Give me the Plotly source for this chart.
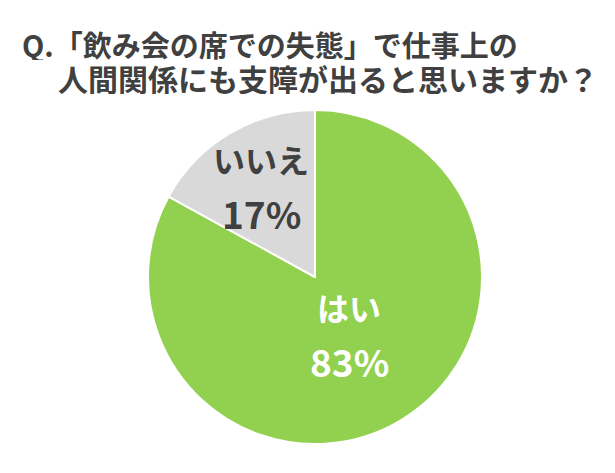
import math
import plotly.graph_objects as go

answers = ['はい', 'いいえ']
shares = [83, 17]
slice_colors = ['#92D050', '#D9D9D9']
label_colors = ['#FFFFFF', '#404040']

title_lines = ['Q.「飲み会の席での失態」で仕事上の', '人間関係にも支障が出ると思いますか？']

FONT = 'Noto Sans CJK JP'
W, H = 615, 473
# pie geometry in pixels
cx, cy, R = 315, 277, 167
label_radius = [0.40, 0.63]  # where each slice's label sits, as a fraction of R

fig = go.Figure(go.Pie(
    labels=answers,
    values=shares,
    sort=False,
    direction='clockwise',
    rotation=0,
    marker=dict(colors=slice_colors, line=dict(color='white', width=2)),
    textinfo='none',
    hoverinfo='label+percent',
    domain=dict(x=[(cx - R) / W, (cx + R) / W], y=[1 - (cy + R) / H, 1 - (cy - R) / H]),
    showlegend=False,
))

# slice labels at the middle angle of each slice (clockwise from 12 o'clock)
total = sum(shares)
start = 0
for name, v, col, f in zip(answers, shares, label_colors, label_radius):
    mid = (start + v / 2) / total * 2 * math.pi
    start += v
    px_ = cx + f * R * math.sin(mid)
    py_ = cy - f * R * math.cos(mid)
    fig.add_annotation(text='<b>' + name + '</b>', x=px_ / W, y=1 - (py_ - 27) / H,
                       xref='paper', yref='paper', xanchor='center', yanchor='middle',
                       showarrow=False, font=dict(family=FONT, size=32, color=col))
    fig.add_annotation(text='<b>%d%%</b>' % v, x=px_ / W, y=1 - (py_ + 27) / H,
                       xref='paper', yref='paper', xanchor='center', yanchor='middle',
                       showarrow=False, font=dict(family=FONT, size=37, color=col))

# two-line title, second line indented
fig.add_annotation(text='<b>' + title_lines[0] + '</b>', x=20 / W, y=1 - 43 / H,
                   xref='paper', yref='paper', xanchor='left', yanchor='middle', height=33,
                   showarrow=False, font=dict(family=FONT, size=29, color='#404040'))
fig.add_annotation(text='<b>' + title_lines[1] + '</b>', x=56 / W, y=1 - 78 / H,
                   xref='paper', yref='paper', xanchor='left', yanchor='middle', height=33,
                   showarrow=False, font=dict(family=FONT, size=30, color='#404040'))

fig.update_layout(
    width=W, height=H,
    margin=dict(l=0, r=0, t=0, b=0),
    paper_bgcolor='white',
    plot_bgcolor='white',
)
fig.write_html('out.html', config={'displayModeBar': False},
               post_script="document.body.style.margin='0';")
